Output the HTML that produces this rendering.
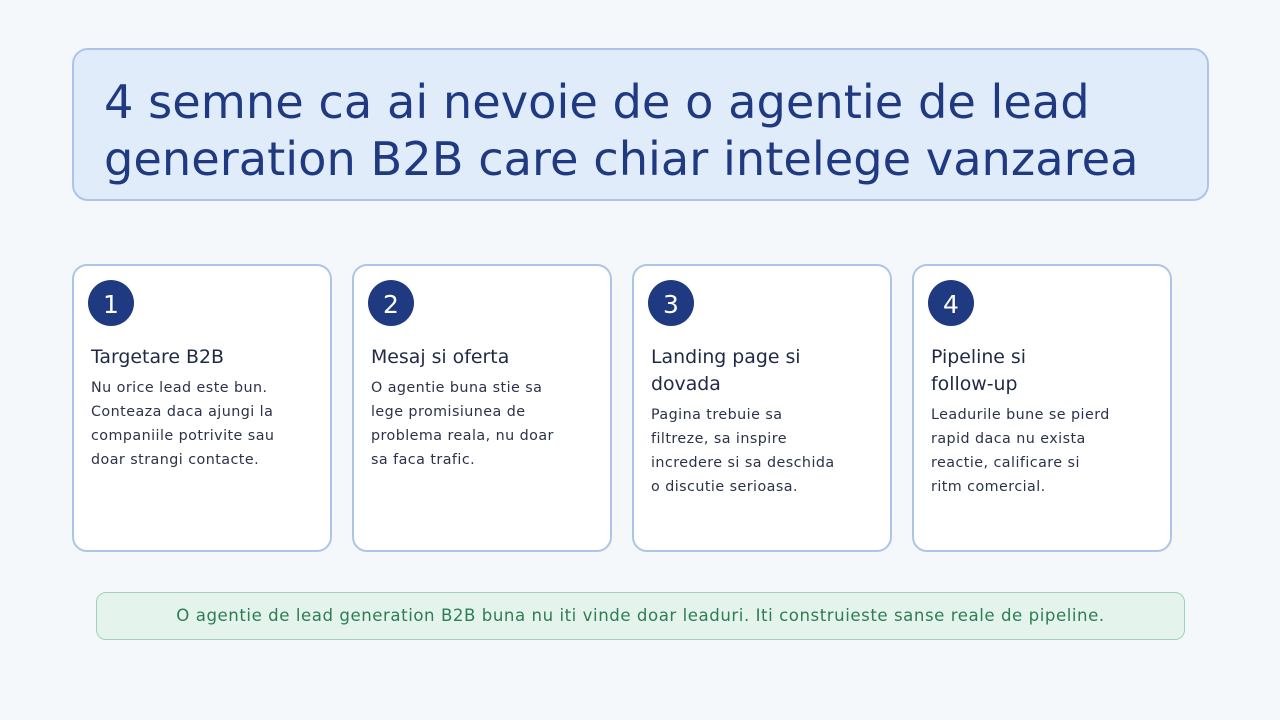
<!DOCTYPE html>
<html><head><meta charset="utf-8"><style>
body{margin:0;width:1280px;height:720px;background:#f5f8fb;font-family:"DejaVu Sans","Liberation Sans",sans-serif;position:relative;overflow:hidden}
.t{position:absolute;left:72px;top:48px;width:1137px;height:153px;background:#e1ecfb;border:2px solid #adc4e8;border-radius:16px;box-sizing:border-box}
.t div{position:absolute;left:30px;top:24px;font-size:46.3px;line-height:57px;color:#1f3a80;white-space:nowrap}
.c{position:absolute;top:264px;width:260px;height:288px;background:#fff;border:2px solid #adc4e8;border-radius:15px;box-sizing:border-box}
.n{position:absolute;left:14px;top:14px;width:46px;height:46px;border-radius:50%;background:#1f3a80;color:#fff;font-size:25px;line-height:50px;text-align:center}
.h{position:absolute;left:17px;top:78px;font-size:18.9px;line-height:27px;color:#1f2a44}
.b{position:absolute;left:17px;font-size:14.3px;letter-spacing:0.45px;line-height:24px;color:#2a3348}
.f{position:absolute;left:96px;top:592px;width:1089px;height:48px;background:#e4f3ec;border:1px solid #9ed3b7;border-radius:10px;box-sizing:border-box;text-align:center;font-size:16.6px;letter-spacing:0.55px;line-height:46px;color:#2e7d55}
</style></head><body>
<div class="t"><div>4 semne ca ai nevoie de o agentie de lead<br>generation B2B care chiar intelege vanzarea</div></div>
<div class="c" style="left:72px"><div class="n">1</div><div class="h">Targetare B2B</div><div class="b" style="top:110px">Nu orice lead este bun.<br>Conteaza daca ajungi la<br>companiile potrivite sau<br>doar strangi contacte.</div></div>
<div class="c" style="left:352px"><div class="n">2</div><div class="h">Mesaj si oferta</div><div class="b" style="top:110px">O agentie buna stie sa<br>lege promisiunea de<br>problema reala, nu doar<br>sa faca trafic.</div></div>
<div class="c" style="left:632px"><div class="n">3</div><div class="h">Landing page si<br>dovada</div><div class="b" style="top:137px">Pagina trebuie sa<br>filtreze, sa inspire<br>incredere si sa deschida<br>o discutie serioasa.</div></div>
<div class="c" style="left:912px"><div class="n">4</div><div class="h">Pipeline si<br>follow-up</div><div class="b" style="top:137px">Leadurile bune se pierd<br>rapid daca nu exista<br>reactie, calificare si<br>ritm comercial.</div></div>
<div class="f">O agentie de lead generation B2B buna nu iti vinde doar leaduri. Iti construieste sanse reale de pipeline.</div>
</body></html>
